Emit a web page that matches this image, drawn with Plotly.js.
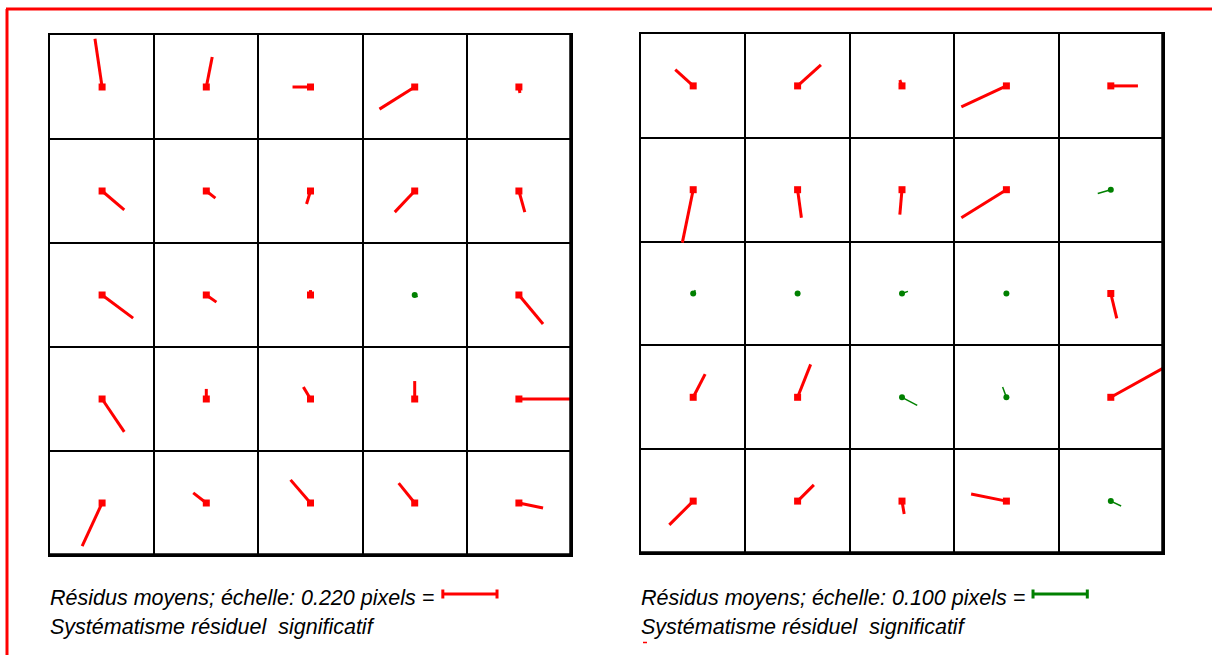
<!DOCTYPE html>
<html><head><meta charset="utf-8">
<script src="https://cdn.plot.ly/plotly-3.0.1.min.js"></script>
<style>html,body{margin:0;padding:0;background:#fff;} #chart{width:1212px;height:655px;}</style>
</head><body><div id="chart"></div>
<script>
// grid size
const nCols = 5, nRows = 5;

// LEFT grid: mean residuals (pixels), rows listed top to bottom, columns left to right; x to the right, y upward
const leftDx = [
  -0.029,  0.024, -0.073, -0.143,  0.004,
   0.090,  0.037, -0.016, -0.081,  0.024,
   0.126,  0.041,  0.000,  0.012,  0.098,
   0.090,  0.000, -0.029,  0.000,  0.212,
  -0.081, -0.053, -0.081, -0.065,  0.098
];
const leftDy = [
   0.196,  0.122,  0.000, -0.090, -0.024,
  -0.077, -0.029, -0.053, -0.086, -0.086,
  -0.094, -0.029,  0.020, -0.008, -0.118,
  -0.134,  0.041,  0.049,  0.073,  0.000,
  -0.175,  0.041,  0.094,  0.081, -0.020
];
// 1 = significant residual systematism (red), 0 = not significant (green)
const leftSignificant = [
  1,1,1,1,1,
  1,1,1,1,1,
  1,1,1,0,1,
  1,1,1,1,1,
  1,1,1,1,1
];
const leftScaleValue = 0.220;

// RIGHT grid
const rightDx = [
  -0.033,  0.043, -0.004, -0.083,  0.050,
  -0.020,  0.007, -0.004, -0.083, -0.024,
   0.004,  0.000,  0.011,  0.000,  0.011,
   0.022,  0.024,  0.028, -0.007,  0.102,
  -0.044,  0.030,  0.004, -0.065,  0.019
];
const rightDy = [
   0.030,  0.039,  0.011, -0.039,  0.000,
  -0.098, -0.052, -0.046, -0.052, -0.007,
   0.006,  0.000,  0.004,  0.000, -0.046,
   0.043,  0.061, -0.015,  0.019,  0.057,
  -0.044,  0.030, -0.024,  0.013, -0.009
];
const rightSignificant = [
  1,1,1,1,1,
  1,1,1,1,0,
  0,0,0,0,1,
  1,1,0,0,1,
  1,1,1,1,0
];
const rightScaleValue = 0.100;

// captions
const leftCaption = 'Résidus moyens; échelle: 0.220 pixels =';
const rightCaption = 'Résidus moyens; échelle: 0.100 pixels =';
const subCaption = 'Systématisme résiduel \u00a0significatif';

// ---- styling / layout settings ----
const W = 1212, H = 655;
const RED = '#ff0000', GREEN = '#008000';
const scaleBarCells = 0.52;  // drawn length of the scale bar, in grid-cell units
const grids = [
  {dx: leftDx, dy: leftDy, sig: leftSignificant, scale: leftScaleValue, xa: 'x', ya: 'y',
   dom: {x:[50,571], y:[35,555]}, barStart: 3.77, barColor: RED, caption: leftCaption, textX: 48},
  {dx: rightDx, dy: rightDy, sig: rightSignificant, scale: rightScaleValue, xa: 'x2', ya: 'y2',
   dom: {x:[641,1163], y:[34,553]}, barStart: 3.755, barColor: GREEN, caption: rightCaption, textX: 639}
];

const traces = [];
const shapes = [];
const annotations = [];
const layout = {
  width: W, height: H, margin: {l:0, r:0, t:0, b:0},
  paper_bgcolor: '#fff', plot_bgcolor: '#fff', showlegend: false
};

grids.forEach((g, gi) => {
  const rl = {x: [], y: []}, gl = {x: [], y: []};
  const rp = {x: [], y: []}, gp = {x: [], y: []};
  for (let i = 0; i < nRows * nCols; i++) {
    const r = Math.floor(i / nCols), c = i % nCols;
    const cx = c + 0.5, cy = nRows - r - 0.5;
    const ex = cx + g.dx[i] / g.scale * scaleBarCells;
    const ey = cy + g.dy[i] / g.scale * scaleBarCells;
    const L = g.sig[i] ? rl : gl, P = g.sig[i] ? rp : gp;
    L.x.push(cx, ex, null); L.y.push(cy, ey, null);
    P.x.push(cx); P.y.push(cy);
  }
  traces.push({type:'scatter', mode:'lines', x: rl.x, y: rl.y, xaxis: g.xa, yaxis: g.ya,
    line: {color: RED, width: 3}, hoverinfo: 'skip'});
  traces.push({type:'scatter', mode:'lines', x: gl.x, y: gl.y, xaxis: g.xa, yaxis: g.ya,
    line: {color: GREEN, width: 1.5}, hoverinfo: 'skip'});
  traces.push({type:'scatter', mode:'markers', x: rp.x, y: rp.y, xaxis: g.xa, yaxis: g.ya, cliponaxis: false,
    marker: {symbol: 'square', size: 7, color: RED}, hoverinfo: 'skip'});
  traces.push({type:'scatter', mode:'markers', x: gp.x, y: gp.y, xaxis: g.xa, yaxis: g.ya, cliponaxis: false,
    marker: {symbol: 'circle', size: 6, color: GREEN}, hoverinfo: 'skip'});

  const axBase = {showgrid: true, gridcolor: '#000', gridwidth: 2, dtick: 1, tick0: 0,
    showticklabels: false, ticks: '', zeroline: false, showline: true, linecolor: '#000',
    linewidth: 2, mirror: true, fixedrange: true};
  const xName = gi === 0 ? 'xaxis' : 'xaxis2', yName = gi === 0 ? 'yaxis' : 'yaxis2';
  layout[xName] = Object.assign({}, axBase, {domain: [g.dom.x[0]/W, g.dom.x[1]/W], range: [0, nCols],
    anchor: g.ya});
  layout[yName] = Object.assign({}, axBase, {domain: [1 - g.dom.y[1]/H, 1 - g.dom.y[0]/H], range: [0, nRows],
    anchor: g.xa});

  // heavier right & bottom border (shadow)
  const xd = g.xa + ' domain', yd = g.ya + ' domain';
  shapes.push({type:'line', xref: xd, yref: yd, x0: 1, x1: 1, y0: 0, y1: 1, line: {color:'#000', width: 3.5}});
  shapes.push({type:'line', xref: xd, yref: yd, x0: 0, x1: 1, y0: 0, y1: 0, line: {color:'#000', width: 3.5}});

  // scale bar
  const by = 1 - 594/H;
  shapes.push({type:'line', xref: g.xa, yref: 'paper', x0: g.barStart, x1: g.barStart + scaleBarCells,
    y0: by, y1: by, line: {color: g.barColor, width: 3}});
  [g.barStart, g.barStart + scaleBarCells].forEach(bx => {
    shapes.push({type:'line', xref: g.xa, yref: 'paper', x0: bx, x1: bx,
      y0: 1 - 598.5/H, y1: 1 - 589.5/H, line: {color: g.barColor, width: 3}});
  });

  const font = {family: 'Liberation Sans, Arial, sans-serif', size: 21.5, color: '#000', style: 'italic'};
  annotations.push({xref:'paper', yref:'paper', x: g.textX/W, y: 1 - 598/H, xanchor:'left', yanchor:'middle',
    text: g.caption, showarrow: false, font: font});
  annotations.push({xref:'paper', yref:'paper', x: g.textX/W, y: 1 - 627/H, xanchor:'left', yanchor:'middle',
    text: subCaption, showarrow: false, font: font});
});

// red page frame
shapes.push({type:'line', xref:'paper', yref:'paper', x0: 6/W, x1: 1, y0: 1 - 9/H, y1: 1 - 9/H,
  line: {color: RED, width: 3}});
shapes.push({type:'line', xref:'paper', yref:'paper', x0: 7/W, x1: 7/W, y0: 0, y1: 1 - 9/H,
  line: {color: RED, width: 3}});
// small red mark under right caption
shapes.push({type:'line', xref:'paper', yref:'paper', x0: 643/W, x1: 647/W, y0: 1 - 642.5/H, y1: 1 - 642.5/H,
  line: {color: RED, width: 1.5}});

layout.shapes = shapes;
layout.annotations = annotations;

Plotly.newPlot('chart', traces, layout, {displayModeBar: false, staticPlot: true});
</script>
</body></html>
